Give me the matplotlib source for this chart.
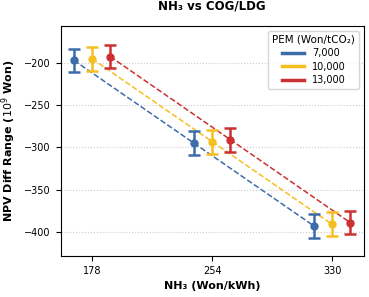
import numpy as np
import matplotlib
matplotlib.use("Agg")
import matplotlib.pyplot as plt
from matplotlib.lines import Line2D

nh3_price = [178, 254, 330]
pem_labels = ["7,000", "10,000", "13,000"]
colors = ["#3d6caa", "#f5bf1f", "#cc3030"]
npv_mid = [
    [-197, -295, -393],
    [-195, -293.5, -391],
    [-192.5, -291, -389],
]
npv_err = [14, 14, 14]
x_offsets = [-11.5, 0, 11.5]

fig, ax = plt.subplots(figsize=(3.69, 2.97), dpi=100)
fig.subplots_adjust(left=0.164, right=0.986, top=0.912, bottom=0.138)

for i in range(3):
    xs = np.array(nh3_price) + x_offsets[i]
    ys = np.array(npv_mid[i])
    k, b = np.polyfit(xs, ys, 1)
    ax.plot(xs, k * xs + b, "--", color=colors[i], lw=1.1, zorder=2)
    ax.errorbar(xs, ys, yerr=npv_err[i], fmt="o", color=colors[i], ms=5,
                elinewidth=1.8, capsize=4, capthick=1.8, zorder=3)

ax.set_xticks(nh3_price)
ax.set_yticks([-200, -250, -300, -350, -400])
ax.set_xlim(158, 350)
ax.set_ylim(-428.5, -156.5)
ax.tick_params(labelsize=7)
ax.grid(axis="y", linestyle=":", color="#cccccc", lw=0.8)
ax.set_axisbelow(True)

ax.set_title("NH₃ vs COG/LDG", fontsize=8.5, fontweight="bold", pad=12)
ax.set_xlabel("NH₃ (Won/kWh)", fontsize=8, fontweight="bold")
ax.set_ylabel("NPV Diff Range ($10^9$ Won)", fontsize=8, fontweight="bold")

handles = [Line2D([0], [0], color=c, lw=2.5) for c in colors]
ax.legend(handles, pem_labels, title="PEM (Won/tCO₂)", loc="upper right",
          fontsize=7, title_fontsize=7.5, handlelength=2.3,
          borderpad=0.4, labelspacing=0.35)

fig.savefig("out.png", dpi=100)
